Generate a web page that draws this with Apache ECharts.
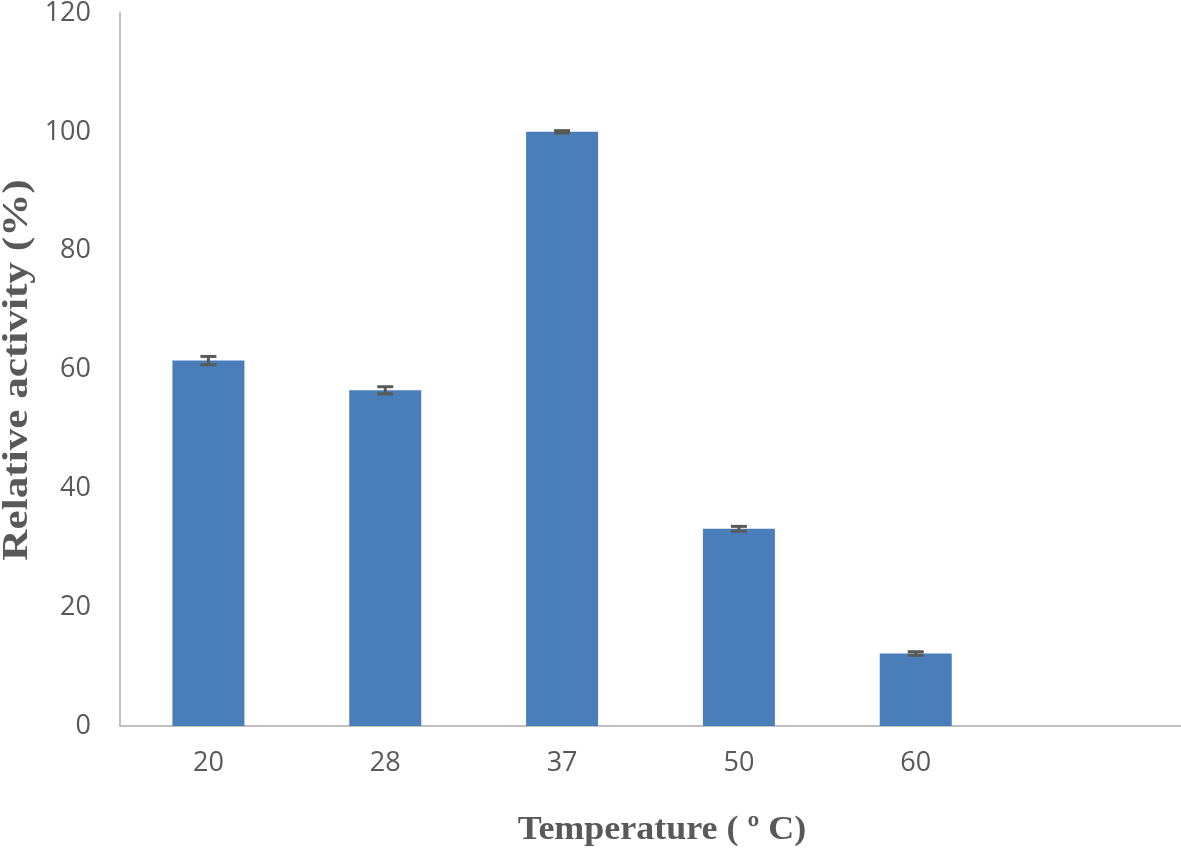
<!DOCTYPE html>
<html>
<head>
<meta charset="utf-8">
<script src="https://cdn.jsdelivr.net/npm/echarts@6/dist/echarts.min.js"></script>
<style>
  html, body { margin: 0; padding: 0; background: #fff; }
  #chart { width: 1181px; height: 850px; }
</style>
</head>
<body>
<div id="chart"></div>
<script>
// temperatures (last slot is empty in the original figure)
var categories = ['20', '28', '37', '50', '60', '']
var activity = [61.5, 56.5, 100, 33.2, 12.2, null]
var errors = [0.7, 0.6, 0.2, 0.4, 0.3, null]
var xTitle = 'Temperature ( º C)'
var yTitle = 'Relative activity (%)'

var chart = echarts.init(document.getElementById('chart'))

var errData = []
activity.forEach(function(v, i) {
  if (v !== null) errData.push([i, v - errors[i], v + errors[i]])
})

var titleStyle = {
  fontFamily: 'Liberation Serif',
  fontWeight: 'bold',
  fontSize: 33,
  fill: '#595959',
  align: 'center',
  verticalAlign: 'middle'
}

chart.setOption({
  backgroundColor: '#fff',
  animation: false,
  grid: { left: 120, right: 0, top: 13, bottom: 124, outerBoundsMode: 'none' },
  graphic: [
    {
      type: 'text',
      x: 662, y: 830,
      scaleX: 1.09,
      style: Object.assign({}, titleStyle, { text: xTitle })
    },
    {
      type: 'text',
      x: 18, y: 370,
      rotation: Math.PI / 2,
      scaleX: 1.2,
      style: Object.assign({}, titleStyle, { text: yTitle, fontSize: 36 })
    }
  ],
  xAxis: {
    type: 'category',
    data: categories,
    axisLine: { lineStyle: { color: '#bfbfbf', width: 2 } },
    axisTick: { show: false },
    axisLabel: { fontFamily: 'Open Sans', fontSize: 27, color: '#595959', margin: 24 }
  },
  yAxis: {
    type: 'value',
    min: 0,
    max: 120,
    interval: 20,
    splitLine: { show: false },
    axisLine: { show: true, lineStyle: { color: '#bfbfbf', width: 2 } },
    axisTick: { show: false },
    axisLabel: { fontFamily: 'Open Sans', fontSize: 27, color: '#595959', margin: 29 }
  },
  series: [
    {
      type: 'bar',
      data: activity,
      barWidth: 72,
      itemStyle: { color: '#4a7ebb' }
    },
    {
      type: 'custom',
      data: errData,
      z: 10,
      renderItem: function(params, api) {
        var x = api.value(0)
        var lo = api.coord([x, api.value(1)])
        var hi = api.coord([x, api.value(2)])
        var w = 8
        var style = { stroke: '#595959', lineWidth: 3 }
        return {
          type: 'group',
          children: [
            { type: 'line', shape: { x1: lo[0], y1: lo[1], x2: hi[0], y2: hi[1] }, style: style },
            { type: 'line', shape: { x1: lo[0] - w, y1: lo[1], x2: lo[0] + w, y2: lo[1] }, style: style },
            { type: 'line', shape: { x1: hi[0] - w, y1: hi[1], x2: hi[0] + w, y2: hi[1] }, style: style }
          ]
        }
      }
    }
  ]
})
</script>
</body>
</html>
